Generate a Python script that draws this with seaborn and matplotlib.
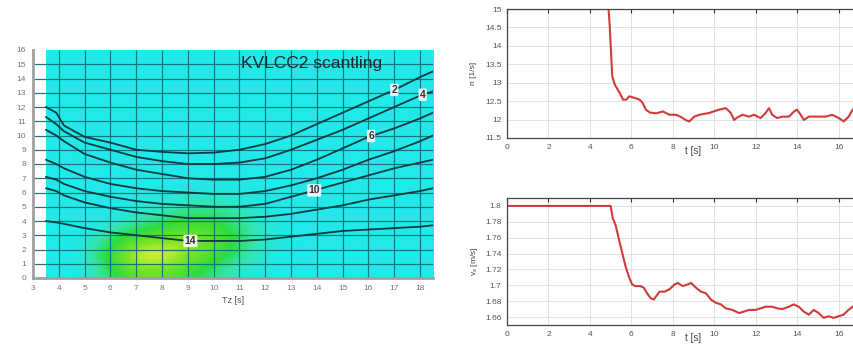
import numpy as np
import pandas as pd
import matplotlib
matplotlib.use("Agg")
import matplotlib.pyplot as plt
from matplotlib.colors import LinearSegmentedColormap
from matplotlib.ticker import FormatStrFormatter
import seaborn as sns

sns.set_style("white")
plt.rcParams['font.family'] = ['Liberation Sans', 'DejaVu Sans']

# --- left panel: scatter diagram (Hs vs Tz) with damage contours ---
tz_pts = [3.5, 3.9, 4.2, 5, 6, 7, 8, 9, 10, 11, 12, 13, 14, 15, 16, 17, 18, 18.5]
contour_levels = [2, 4, 6, 8, 10, 12, 14]
contour_hs = [
    [12.0, 11.6, 10.7, 9.9, 9.5, 9.0, 8.85, 8.75, 8.8, 9.0, 9.4, 10.0, 10.8, 11.6, 12.4, 13.2, 14.1, 14.5],
    [11.3, 10.8, 10.3, 9.5, 9.0, 8.5, 8.2, 8.0, 8.0, 8.1, 8.4, 9.0, 9.7, 10.4, 11.2, 12.0, 12.8, 13.1],
    [10.4, 10.0, 9.6, 8.7, 8.1, 7.6, 7.3, 7.0, 6.9, 6.9, 7.1, 7.6, 8.3, 9.1, 9.9, 10.5, 11.2, 11.6],
    [8.3, 8.0, 7.7, 7.1, 6.6, 6.3, 6.1, 6.0, 5.9, 5.9, 6.1, 6.5, 7.0, 7.6, 8.3, 8.9, 9.6, 10.0],
    [7.1, 6.9, 6.6, 6.1, 5.7, 5.4, 5.2, 5.1, 5.0, 5.0, 5.2, 5.7, 6.2, 6.7, 7.2, 7.7, 8.1, 8.3],
    [6.3, 6.1, 5.8, 5.3, 4.9, 4.6, 4.4, 4.2, 4.2, 4.2, 4.3, 4.5, 4.8, 5.1, 5.5, 5.8, 6.1, 6.3],
    [4.0, 3.9, 3.8, 3.5, 3.2, 3.0, 2.8, 2.6, 2.6, 2.6, 2.7, 2.9, 3.1, 3.3, 3.4, 3.5, 3.6, 3.7],
]
label_tz = {2: 17.0, 4: 18.1, 6: 16.1, 10: 13.9, 14: 9.1}

# occurrence table, Hs cells 0.5..5.5 (rows) x Tz cells 5..12 (cols)
occ_tz = [5, 6, 7, 8, 9, 10, 11, 12]
occ_hs = [0.5, 1.5, 2.5, 3.5, 4.5, 5.5]
occ_vals = [
    [0.00, 0.25, 0.60, 0.62, 0.42, 0.18, 0.04, 0.00],
    [0.02, 0.45, 1.00, 1.00, 0.72, 0.48, 0.18, 0.02],
    [0.00, 0.28, 0.65, 0.75, 0.75, 0.58, 0.28, 0.05],
    [0.00, 0.05, 0.25, 0.40, 0.55, 0.48, 0.22, 0.04],
    [0.00, 0.00, 0.05, 0.13, 0.24, 0.24, 0.13, 0.02],
    [0.00, 0.00, 0.00, 0.02, 0.07, 0.09, 0.04, 0.00],
]

# --- right panels: time histories ---
t_n = [0, 4.9, 4.95, 5.08, 5.2, 5.43, 5.6, 5.75, 5.9, 6.15, 6.4, 6.55, 6.7, 6.9, 7.2, 7.52, 7.84,
       8.16, 8.4, 8.64, 8.8, 9.04, 9.28, 9.76, 10.24, 10.56, 10.8, 10.96, 11.12, 11.36, 11.68,
       11.92, 12.24, 12.48, 12.64, 12.8, 13.04, 13.28, 13.61, 13.85, 14.0, 14.17, 14.33, 14.57,
       15.05, 15.37, 15.69, 16.01, 16.25, 16.49, 16.68, 16.9]
n_rps = [15, 15, 14.6, 13.17, 12.95, 12.73, 12.54, 12.54, 12.63, 12.59, 12.54, 12.45, 12.27,
         12.19, 12.17, 12.22, 12.13, 12.13, 12.07, 11.98, 11.95, 12.08, 12.13, 12.18, 12.27,
         12.31, 12.18, 11.99, 12.06, 12.13, 12.08, 12.13, 12.04, 12.18, 12.31, 12.13, 12.04,
         12.08, 12.08, 12.22, 12.27, 12.13, 11.99, 12.08, 12.08, 12.08, 12.13, 12.04, 11.95,
         12.08, 12.27, 12.35]
t_v = [0, 5.0, 5.1, 5.25, 5.4, 5.56, 5.72, 5.88, 6.04, 6.2, 6.44, 6.6, 6.76, 6.92, 7.08, 7.36,
       7.6, 7.84, 8.08, 8.24, 8.48, 8.72, 8.88, 9.12, 9.36, 9.6, 9.84, 10.08, 10.32, 10.56,
       10.88, 11.2, 11.44, 11.68, 12.0, 12.24, 12.48, 12.8, 13.04, 13.28, 13.6, 13.84, 14.08,
       14.32, 14.56, 14.8, 15.04, 15.28, 15.52, 15.76, 16.0, 16.24, 16.48, 16.68, 16.9]
v_ship = [1.8, 1.8, 1.785, 1.775, 1.758, 1.741, 1.724, 1.711, 1.701, 1.699, 1.699, 1.697, 1.690,
          1.684, 1.682, 1.692, 1.692, 1.695, 1.701, 1.703, 1.699, 1.701, 1.703, 1.697, 1.692,
          1.690, 1.682, 1.678, 1.676, 1.671, 1.669, 1.665, 1.667, 1.669, 1.669, 1.671, 1.673,
          1.673, 1.671, 1.670, 1.673, 1.676, 1.673, 1.667, 1.663, 1.669, 1.665, 1.659, 1.661,
          1.659, 1.661, 1.663, 1.669, 1.673, 1.678]

fig = plt.figure(figsize=(8.54, 3.49), dpi=100)
fig.patch.set_facecolor('white')

# ---------------- left panel ----------------
ax = fig.add_axes([33 / 854, 71 / 349, 400 / 854, 228 / 349])
grid = np.zeros((16, 15))
for i, hs in enumerate(occ_hs):
    for j, tz in enumerate(occ_tz):
        grid[int(hs - 0.5), int(tz - 4)] = occ_vals[i][j]
cmap = LinearSegmentedColormap.from_list(
    'sea', [(0.0, '#22E8EA'), (0.12, '#34E6B4'), (0.35, '#2CDB3C'),
            (0.7, '#7EE424'), (1.0, '#F6F83A')])
ax.imshow(grid, origin='lower', extent=(3.5, 18.5, 0, 16), cmap=cmap, vmin=0, vmax=1,
          interpolation='bicubic', aspect='auto', zorder=0)
ax.set_xlim(3, 18.5)
ax.set_ylim(0, 16)
ax.set_xticks(range(3, 19))
ax.set_yticks(range(0, 17))
ax.vlines(range(4, 19), 0, 16, colors='#117476', lw=0.85, zorder=1.5)
ax.hlines(range(1, 16), 3.0, 18.5, colors='#117476', lw=0.85, zorder=1.5)

rows = []
for lvl, hs_line in zip(contour_levels, contour_hs):
    for tz, hs in zip(tz_pts, hs_line):
        rows.append({'Tz': tz, 'Hs': hs, 'level': lvl})
cdf = pd.DataFrame(rows)
sns.lineplot(data=cdf, x='Tz', y='Hs', units='level', estimator=None, color='#0b3c40',
             lw=1.3, ax=ax, zorder=2)
for lvl, tz in label_tz.items():
    hs = np.interp(tz, tz_pts, contour_hs[contour_levels.index(lvl)])
    ax.text(tz, hs, str(lvl), fontsize=7.5, color='#333333', ha='center', va='center',
            fontweight='bold', zorder=3,
            bbox=dict(boxstyle='round,pad=0.12', fc='white', ec='none', alpha=0.9))
ax.text(13.78, 15.05, 'KVLCC2 scantling', fontsize=12.5, color='#1e2a2a', ha='center',
        va='center', zorder=3)
ax.set_xlabel('Tz [s]', fontsize=6.5, color='#555555', labelpad=3)
ax.set_ylabel('')
for s in ['top', 'right']:
    ax.spines[s].set_visible(False)
for s in ['left', 'bottom']:
    ax.spines[s].set_color('#a0a0a0')
    ax.spines[s].set_linewidth(2)
ax.tick_params(labelsize=6, colors='#777777', length=3, width=0.8, pad=2)

# ---------------- right panels ----------------
red = '#d23a3a'

def style_ts(a):
    a.set_xlim(0, 18)
    a.set_xticks(range(0, 17, 2))
    a.grid(True, color='#dddddd', lw=0.6)
    a.tick_params(direction='in', top=True, right=True, length=3, width=0.8,
                  labelsize=6, colors='#333333', labelcolor='#555555', pad=4)
    for s in a.spines.values():
        s.set_color('#444444')
        s.set_linewidth(0.9)
    a.yaxis.set_major_formatter(FormatStrFormatter('%g'))

ax1 = fig.add_axes([507 / 854, 211 / 349, 373 / 854, 129 / 349])
sns.lineplot(x=t_n, y=n_rps, ax=ax1, color=red, lw=1.5, estimator=None, sort=False)
ax1.set_ylim(11.5, 15.0)
ax1.set_yticks(np.arange(11.5, 15.01, 0.5))
style_ts(ax1)
ax1.set_xlabel('t [s]', fontsize=7, color='#444444', labelpad=-3)
ax1.set_ylabel('n [1/s]', fontsize=6, color='#444444', labelpad=6)

ax2 = fig.add_axes([507 / 854, 24 / 349, 373 / 854, 127 / 349])
sns.lineplot(x=t_v, y=v_ship, ax=ax2, color=red, lw=1.5, estimator=None, sort=False)
ax2.set_ylim(1.65, 1.81)
ax2.set_yticks(np.arange(1.66, 1.801, 0.02))
style_ts(ax2)
ax2.set_xlabel('t [s]', fontsize=7, color='#444444', labelpad=-3)
ax2.set_ylabel('v$_s$ [m/s]', fontsize=6, color='#444444', labelpad=4)

fig.savefig('out.png', dpi=100, facecolor='white')
